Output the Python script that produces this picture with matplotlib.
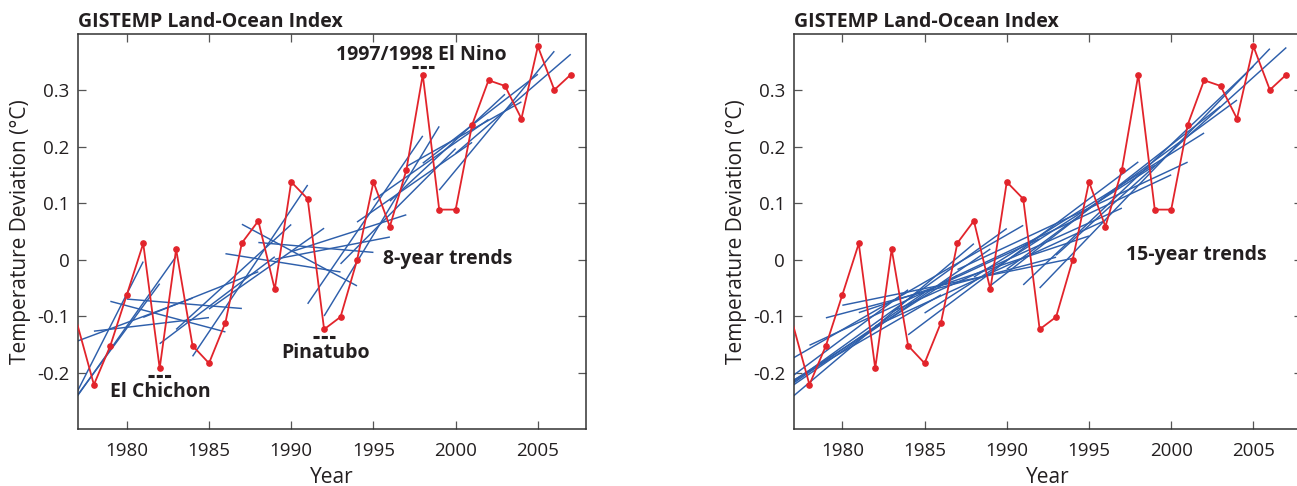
import numpy as np
import matplotlib
matplotlib.use('Agg')
import matplotlib.pyplot as plt

# yearly GISTEMP land-ocean values (deg C)
years = list(range(1977, 2008))
temp = [-0.115, -0.221, -0.152, -0.062, 0.029, -0.192, 0.019, -0.152, -0.183, -0.111,
        0.030, 0.069, -0.052, 0.138, 0.108, -0.123, -0.101, -0.001, 0.138, 0.059,
        0.159, 0.328, 0.089, 0.089, 0.239, 0.318, 0.308, 0.250, 0.378, 0.301, 0.328]

# years before the axis start, estimated from the clipped trend lines at the left edge
early_years = list(range(1970, 1977))
early_temp = [-0.28, -0.39, -0.30, -0.15, -0.38, -0.32, -0.41]

panels = [('8-year trends', 8), ('15-year trends', 15)]
# event name, year of the marked point, marker above (+1) or below (-1) the point
events = [('El Chichon', 1982, -1), ('Pinatubo', 1992, -1), ('1997/1998 El Nino', 1998, 1)]

RED = '#e2242b'
BLUE = '#2e5fab'
INK = '#231f20'

plt.rcParams['font.family'] = ['Open Sans', 'DejaVu Sans']
plt.rcParams['axes.unicode_minus'] = False

all_years = np.array(early_years + years, dtype=float)
all_temp = np.array(early_temp + temp)


def draw_trends(ax, n):
    # least squares line over every n-year window, drawn over that window
    for i in range(len(all_years) - n + 1):
        x = all_years[i:i + n]
        y = all_temp[i:i + n]
        if x.mean() < years[0]:
            continue
        k, b = np.polyfit(x, y, 1)
        ax.plot([x[0], x[-1]], [k * x[0] + b, k * x[-1] + b], color=BLUE, lw=1.05,
                solid_capstyle='butt', zorder=2)


def style_axes(ax):
    ax.set_xlim(1977.03, 2007.95)
    ax.set_ylim(-0.3, 0.4)
    ax.set_xticks(range(1980, 2006, 5))
    ax.set_yticks([-0.2, -0.1, 0, 0.1, 0.2, 0.3])
    ax.set_yticklabels(['-0.2', '-0.1', '0', '0.1', '0.2', '0.3'])
    ax.tick_params(direction='in', length=6, width=0.9, color='#555555',
                   top=True, right=True, labelsize=13.5, labelcolor=INK)
    ax.tick_params(axis='x', pad=9)
    ax.tick_params(axis='y', pad=6)
    for s in ax.spines.values():
        s.set_linewidth(1.1)
        s.set_color('#333333')
    ax.set_xlabel('Year', fontsize=15, color=INK, labelpad=5)
    ax.set_ylabel('Temperature Deviation (\u00b0C)', fontsize=15, color=INK)
    ax.yaxis.set_label_coords(-0.092, 0.5)
    ax.set_title('GISTEMP Land-Ocean Index', loc='left', fontsize=14, fontweight='bold',
                 color=INK, pad=5)


fig = plt.figure(figsize=(12.97, 4.86), dpi=100)
ax1 = fig.add_axes([0.0601, 0.1167, 0.392, 0.8134])
ax2 = fig.add_axes([0.6118, 0.1167, 0.392, 0.8134])

for ax, (label, n) in zip([ax1, ax2], panels):
    draw_trends(ax, n)
    ax.plot(years, temp, color=RED, lw=1.3, marker='o', ms=3.8,
            markevery=list(range(1, len(years))), zorder=3)
    style_axes(ax)

ax1.text(1995.6, 0.002, '8-year trends', fontsize=14, fontweight='bold', color=INK,
         va='center', ha='left')
ax2.text(1997.25, 0.008, '15-year trends', fontsize=14, fontweight='bold', color=INK,
         va='center', ha='left')

# event labels, with the short dashed marks next to the data point
text_pos = {'El Chichon': (1978.95, -0.234),
            'Pinatubo': (1989.4, -0.165),
            '1997/1998 El Nino': (1992.7, 0.363)}
for name, yr, side in events:
    v = temp[years.index(yr)] + side * 0.0135
    tx, ty = text_pos[name]
    ax1.text(tx, ty, name, fontsize=14, fontweight='bold', color=INK,
             va='center', ha='left')
    ax1.plot([yr - 0.68, yr + 0.68], [v, v], color=INK, lw=2.2,
             ls=(0, (2.0, 0.7)), dash_capstyle='butt', zorder=4)

fig.savefig('out.png', dpi=100)
